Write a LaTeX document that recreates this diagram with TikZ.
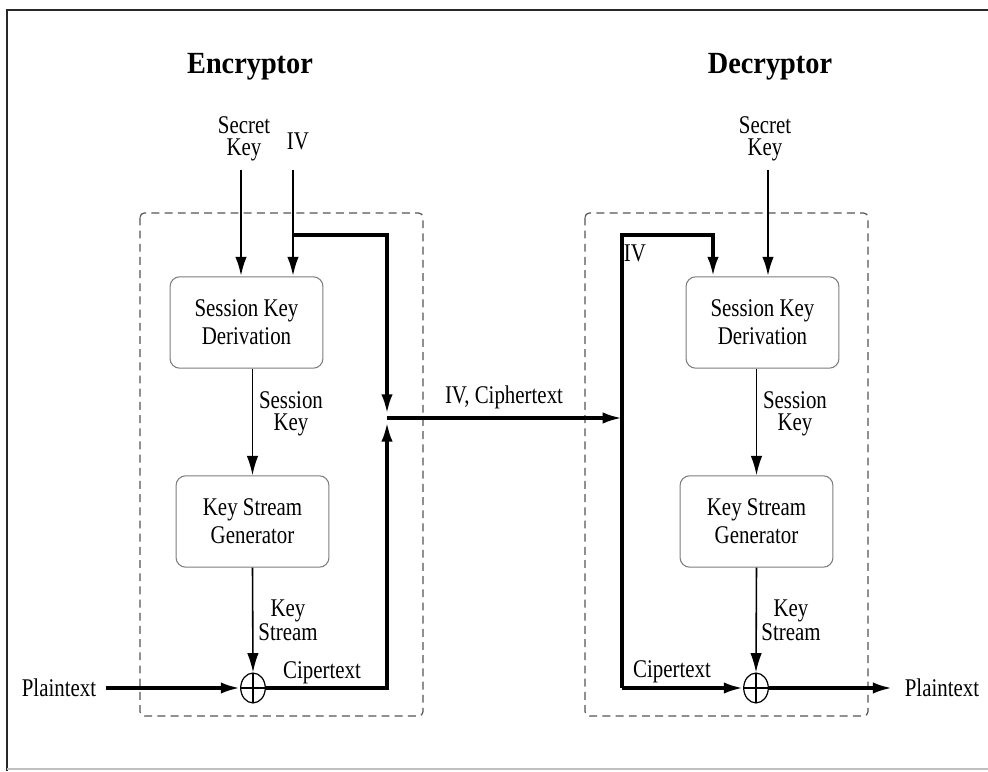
\documentclass[tikz,border=0pt]{standalone}
\usepackage{fontspec}
\setmainfont{Liberation Serif}
\newfontfamily\lblfont[FakeStretch=0.82]{Liberation Serif}
\newfontfamily\ttlfont[FakeStretch=0.92]{Liberation Serif}
\usetikzlibrary{positioning, arrows.meta, shapes.geometric}
\definecolor{boxgray}{RGB}{125,125,125}
\definecolor{dashgray}{RGB}{85,85,85}
\definecolor{framegray}{RGB}{40,40,40}

\begin{document}
\begin{tikzpicture}[x=0.2mm, y=-0.2mm,
      blk/.style={rectangle, draw=boxgray, line width=0.6pt, rounded corners=5.5pt,
                  minimum width=87pt, minimum height=52pt, align=center,
                  font=\lblfont\fontsize{14.5}{16}\selectfont},
      lbl/.style={align=center, inner sep=1pt, font=\lblfont\fontsize{14.5}{12.2}\selectfont},
      ttl/.style={inner sep=1pt, font=\ttlfont\bfseries\fontsize{17.5}{20}\selectfont},
      grp/.style={draw=dashgray, dash pattern=on 4.5pt off 3pt, line width=0.7pt, rounded corners=2.5pt},
      xor/.style={ellipse, draw, line width=0.7pt, minimum width=14pt, minimum height=17pt, inner sep=0pt,
                  path picture={\draw[line width=0.7pt]
                    (path picture bounding box.north) -- (path picture bounding box.south)
                    (path picture bounding box.west) -- (path picture bounding box.east);}},
      arr/.style={-{Latex[length=11pt, width=6.5pt]}, line width=0.9pt},
      marr/.style={arr, line width=1.5pt},
      farr/.style={arr, line width=1.9pt},
      fat/.style={line width=1.9pt}]
    \useasboundingbox (0,0) rectangle (988,772);
    \draw[line width=1.1pt, framegray] (988,10) -- (7,10) -- (7,771);
    \draw[line width=0.6pt, black!25] (7,769) -- (988,769);

    \draw[grp] (140,213) rectangle (423,716);
    \draw[grp] (585,213) rectangle (868,716);

    \node[ttl] (enc) at (250,67) {Encryptor};
    \node[ttl] (dec) at (770,67) {Decryptor};

    \node[lbl] (eskey) at (244,139) {Secret\\Key};
    \node[lbl] (eiv) at (298,141) {IV};
    \node[blk] (eskd) at (246.5,322.5) {Session Key\\Derivation};
    \node[lbl] (esess) at (291,414) {Session\\Key};
    \node[blk] (eksg) at (252.5,521.5) {Key Stream\\Generator};
    \node[lbl] (estrm) at (288,620) {Key\\Stream};
    \node[xor] (exor) at (253,688) {};
    \node[lbl] (ept) at (59,688) {Plaintext};
    \node[lbl] (ect) at (322,673) {Cipertext};
    \node[lbl] (ivct) at (504,397) {IV, Ciphertext};

    \node[lbl] (dskey) at (765,139) {Secret\\Key};
    \node[lbl] (div) at (635,253) {IV};
    \node[blk] (dskd) at (762.5,322.5) {Session Key\\Derivation};
    \node[lbl] (dsess) at (795,414) {Session\\Key};
    \node[blk] (dksg) at (756.5,521.5) {Key Stream\\Generator};
    \node[lbl] (dstrm) at (791,620) {Key\\Stream};
    \node[xor] (dxor) at (756,688) {};
    \node[lbl] (dct) at (672,672) {Cipertext};
    \node[lbl] (dpt) at (942,688) {Plaintext};

    \coordinate (esk) at (241,170);
    \coordinate (eivs) at (293,170);
    \coordinate (eivc) at (293,235);
    \coordinate (ej) at (387,418);
    \coordinate (dj) at (622,418);
    \coordinate (dtop) at (622,235);
    \coordinate (dbot) at (622,688);
    \coordinate (divc) at (713,235);
    \coordinate (dsk) at (768,170);

    \draw[marr] (esk) -- (esk |- eskd.north);
    \draw[marr] (eivs) -- (eivs |- eskd.north);
    \draw[fat, -{Latex[length=11pt, width=6.5pt]}, shorten >=2.5pt] (eivc) -| (ej);
    \draw[arr] (eskd.south -| eksg.north) -- (eksg.north);
    \draw[arr] (eksg.south) -- (exor.north);
    \draw[farr] (ept.east) ++(8,0) -- (exor.west);
    \draw[fat, -{Latex[length=11pt, width=6.5pt]}, shorten >=2.5pt] (exor.east) -| (ej);
    \draw[farr] (ej) -- (dj);

    \draw[marr] (dsk) -- (dsk |- dskd.north);
    \draw[farr] (dbot) -- (dtop) -- (divc) -- (divc |- dskd.north);
    \draw[arr] (dskd.south -| dksg.north) -- (dksg.north);
    \draw[arr] (dksg.south) -- (dxor.north);
    \draw[farr] (dbot) -- (dxor.west);
    \draw[farr] (dxor.east) -- ([xshift=-6pt]dpt.west);
  \end{tikzpicture}
\end{document}
